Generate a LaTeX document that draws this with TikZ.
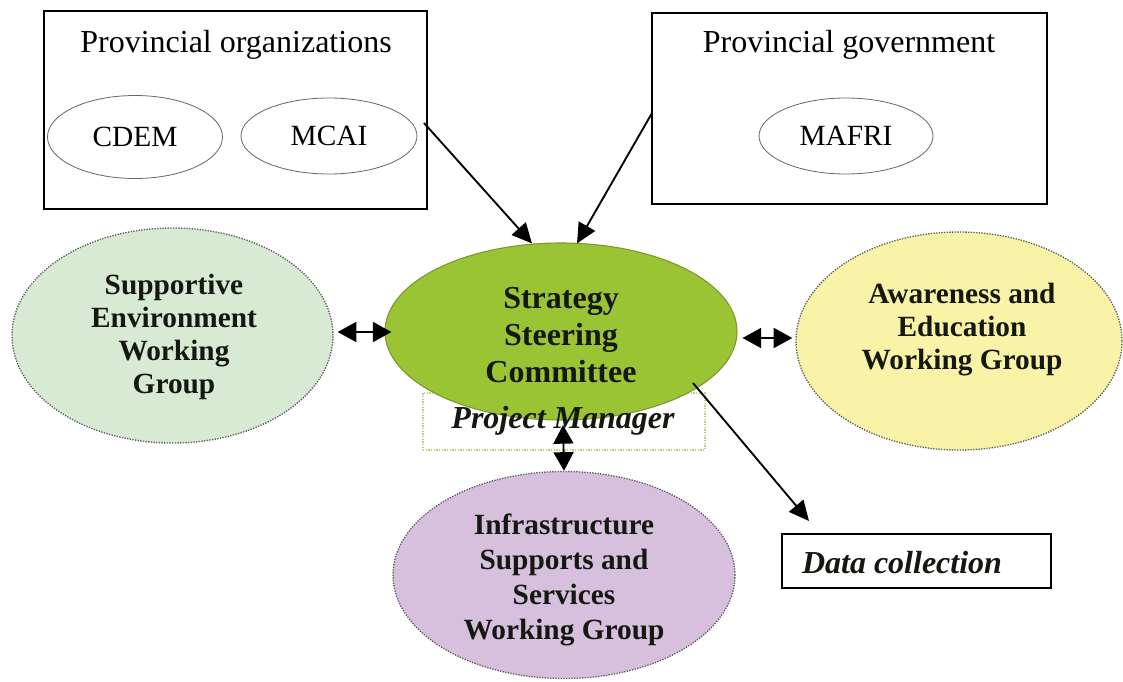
\documentclass[tikz,border=0pt]{standalone}
\usepackage{fontspec}
\setmainfont{Liberation Serif}
\usetikzlibrary{arrows.meta,calc,shapes.geometric}
\definecolor{sscfill}{RGB}{155,196,52}
\definecolor{sscdraw}{RGB}{125,150,45}
\definecolor{sefill}{RGB}{216,234,212}
\definecolor{aefill}{RGB}{249,243,168}
\definecolor{isfill}{RGB}{214,192,222}
\definecolor{pmdraw}{RGB}{192,208,125}
\definecolor{dotline}{RGB}{95,95,95}
\definecolor{txt}{RGB}{20,24,16}
\begin{document}
\begin{tikzpicture}[x=0.75pt,y=-0.75pt,
  box/.style={draw,line width=1.5pt,rectangle,inner sep=0},
  org/.style={draw=gray!80!black,line width=0.6pt,ellipse,inner sep=0,font=\fontsize{22}{24}\selectfont},
  boxtitle/.style={inner sep=0,font=\fontsize{24}{28}\selectfont},
  wg/.style={ellipse,draw=dotline,densely dotted,line width=1pt,inner sep=0},
  wgtext/.style={inner sep=0,align=center,text=txt,font=\fontsize{22}{24.75}\selectfont\bfseries},
  ssc/.style={ellipse,draw=sscdraw,fill=sscfill,line width=0.8pt,inner sep=0},
  pmbox/.style={rectangle,draw=pmdraw,line width=2.2pt,dash pattern=on 1pt off 1pt,inner sep=0},
  itbold/.style={inner sep=0,text=txt,font=\fontsize{24}{28}\selectfont\bfseries\itshape},
  arr/.style={line width=1.4pt,-{Triangle[length=15pt,width=14pt]}},
  dbl/.style={line width=1.4pt,{Triangle[length=14pt,width=15pt]}-{Triangle[length=14pt,width=15pt]}}
]
\useasboundingbox (0,0) rectangle (1123,681);
\fill[white] (0,0) rectangle (1123,681);

% provincial organizations
\node[box,minimum width=287.25pt,minimum height=148.5pt] (po) at (235.5,110) {};
\node[boxtitle] (pot) at (236,45) {Provincial organizations};
\node[org,minimum width=131.25pt,minimum height=62.25pt] (cdem) at (135,137) {CDEM};
\node[org,minimum width=132pt,minimum height=57pt] (mcai) at (329,136) {MCAI};

% provincial government
\node[box,minimum width=296.25pt,minimum height=143.25pt] (pg) at (849.5,108.5) {};
\node[boxtitle] (pgt) at (849,45) {Provincial government};
\node[org,minimum width=130.5pt,minimum height=57pt] (mafri) at (846,136) {MAFRI};

% project manager box (behind the committee)
\node[pmbox,minimum width=211.5pt,minimum height=42.75pt] (pm) at (564,421.5) {};

% committee
\node[ssc,minimum width=264pt,minimum height=132.75pt] (ssc) at (561,331.5) {};
\node[wgtext,font=\fontsize{24}{27.75}\selectfont\bfseries] (ssct) at (561,335) {Strategy\\Steering\\Committee};
\node[itbold] (pmt) at (563,421) {Project Manager};

% working groups
\node[wg,fill=sefill,minimum width=240.75pt,minimum height=161.25pt] (se) at (172.5,335.5) {};
\node[wgtext] (set) at (174,337) {Supportive\\Environment\\Working\\Group};

\node[wg,fill=aefill,minimum width=244.5pt,minimum height=163.5pt] (ae) at (959,341) {};
\node[wgtext] (aet) at (962,330) {Awareness and\\Education\\Working Group};

\node[wg,fill=isfill,minimum width=256.5pt,minimum height=155.25pt] (is) at (564,575) {};
\node[wgtext,font=\fontsize{22}{26.25}\selectfont\bfseries] (ist) at (564,580) {Infrastructure\\Supports and\\Services\\Working Group};

% data collection
\node[box,minimum width=201.75pt,minimum height=40.5pt] (dc) at (916.5,561) {};
\node[itbold] (dct) at (902,563) {Data collection};

% connectors
\draw[arr] ($(po.east)+(-4,13)$) -- ($(ssc.north)+(-29,1)$);
\draw[arr] ($(pg.west)+(1,4.5)$) -- ($(ssc.north)+(16,1)$);
\draw[dbl] ($(se.east)+(4,-3.5)$) -- ($(ssc.west)+(7,0.5)$);
\draw[dbl] ($(ssc.east)+(5,6.5)$) -- ($(ae.west)+(-3,-3)$);
\draw[dbl] ($(pm.center)+(-1,3.5)$) -- (is.north);
\coordinate (dctip) at ($(dc.north west)+(28,-12)$);
\draw[arr] ($(ssc.center)+(132,51.5)$) -- (dctip);
\end{tikzpicture}
\end{document}
